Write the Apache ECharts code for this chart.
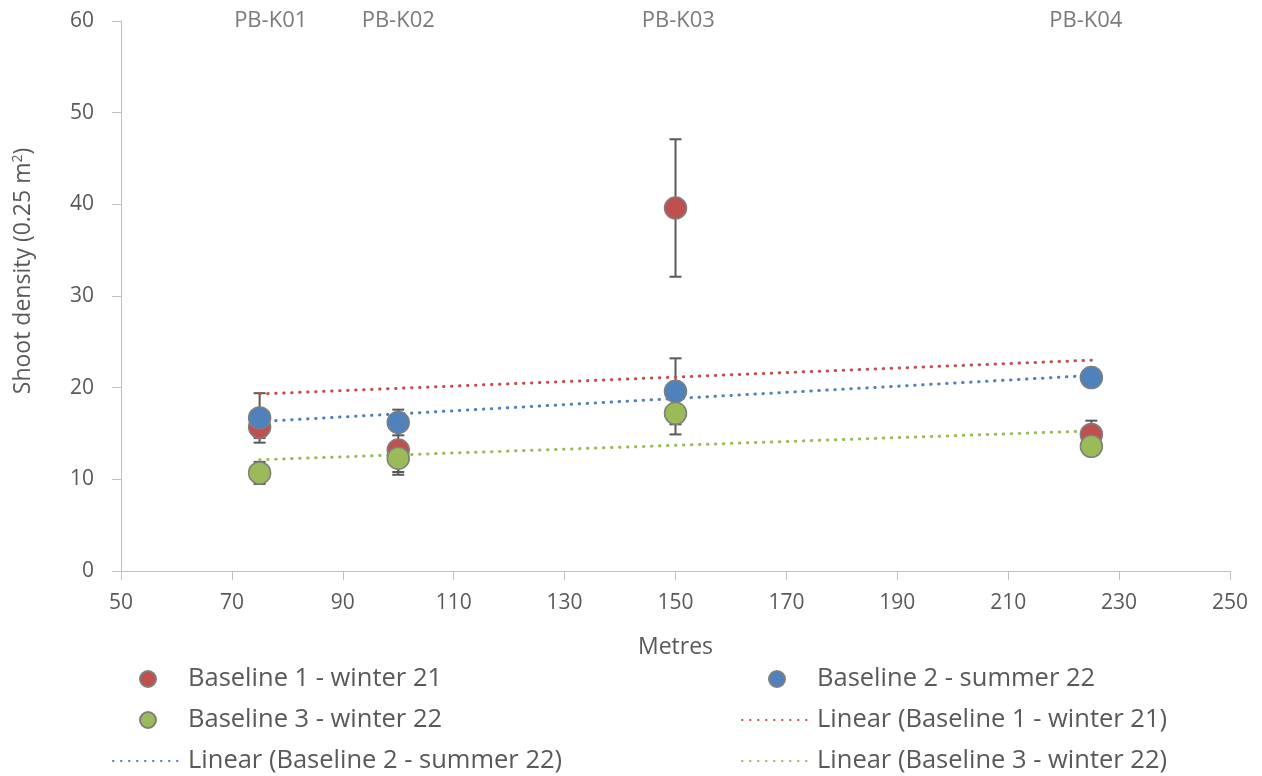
<!DOCTYPE html>
<html lang="en">
<head>
    <meta charset="UTF-8">
    <title>Shoot density</title>
    <script src="https://cdn.jsdelivr.net/npm/echarts@6/dist/echarts.min.js"></script>
    <style>
        html, body { margin: 0; padding: 0; background: #fff; }
        #main { width: 1262px; height: 776px; }
    </style>
</head>
<body>
<div id="main"></div>
<script type="text/javascript">
    // distance along transect (m)
    var metres = [75, 100, 150, 225];

    // mean shoot density per series
    var b1Values = [15.7, 13.2, 39.6, 14.9];
    var b2Values = [16.7, 16.2, 19.6, 21.1];
    var b3Values = [10.7, 12.3, 17.2, 13.6];

    // +/- error per point
    var b1Err = [1.2, 2.7, 7.5, 1.5];
    var b2Err = [2.7, 1.4, 3.6, 0.8];
    var b3Err = [1.2, 1.5, 2.3, 0.9];

    // site labels along the top
    var siteNames = ['PB-K01', 'PB-K02', 'PB-K03', 'PB-K04'];
    var siteX = [77, 100, 150.5, 224];

    var names = ['Baseline 1 - winter 21', 'Baseline 2 - summer 22', 'Baseline 3 - winter 22'];
    var colors = ['#c0504d', '#4f81bd', '#9bbb59'];
    var allValues = [b1Values, b2Values, b3Values];
    var allErr = [b1Err, b2Err, b3Err];

    var font = '"Open Sans", sans-serif';
    var grey = '#595959';

    // least squares trendline, like the spreadsheet "Linear" trendline
    function trend(xs, ys) {
        var n = xs.length, mx = 0, my = 0;
        for (var i = 0; i < n; i++) { mx += xs[i]; my += ys[i]; }
        mx /= n; my /= n;
        var sxy = 0, sxx = 0;
        for (var j = 0; j < n; j++) {
            sxy += (xs[j] - mx) * (ys[j] - my);
            sxx += (xs[j] - mx) * (xs[j] - mx);
        }
        var b = sxy / sxx, a = my - b * mx;
        var x0 = xs[0], x1 = xs[n - 1];
        return [[x0, a + b * x0], [x1, a + b * x1]];
    }

    function errorBars(params, api) {
        var x = api.value(0);
        var top = api.coord([x, api.value(2)]);
        var bot = api.coord([x, api.value(1)]);
        var hw = 6;
        var st = {stroke: grey, lineWidth: 2};
        return {
            type: 'group',
            children: [
                {type: 'line', shape: {x1: top[0], y1: top[1], x2: bot[0], y2: bot[1]}, style: st},
                {type: 'line', shape: {x1: top[0] - hw, y1: top[1], x2: top[0] + hw, y2: top[1]}, style: st},
                {type: 'line', shape: {x1: bot[0] - hw, y1: bot[1], x2: bot[0] + hw, y2: bot[1]}, style: st}
            ]
        };
    }

    var series = [];
    for (var s = 0; s < 3; s++) {
        var pts = [], errs = [];
        for (var k = 0; k < metres.length; k++) {
            pts.push([metres[k], allValues[s][k]]);
            errs.push([metres[k], allValues[s][k] - allErr[s][k], allValues[s][k] + allErr[s][k]]);
        }
        series.push({
            name: names[s],
            type: 'scatter',
            data: pts,
            symbolSize: 22,
            z: 4,
            itemStyle: {color: colors[s], borderColor: '#7f7f7f', borderWidth: 1.5, opacity: 1}
        });
        series.push({
            type: 'custom',
            renderItem: errorBars,
            encode: {x: 0, y: [1, 2]},
            data: errs,
            z: 2,
            silent: true
        });
        series.push({
            name: 'Linear (' + names[s] + ')',
            type: 'line',
            data: trend(metres, allValues[s]),
            symbol: 'none',
            z: 3,
            lineStyle: {color: colors[s], width: 3, type: [0.5, 7.5], cap: 'round'},
            itemStyle: {color: colors[s]}
        });
    }

    // site names drawn as labels of an invisible series at the top
    var labelPts = siteX.map(function (x, i) { return [x, 60, siteNames[i]]; });
    series.push({
        type: 'scatter',
        data: labelPts,
        symbolSize: 0,
        itemStyle: {color: 'transparent'},
        label: {
            show: true,
            position: [0, 0],
            align: 'center',
            verticalAlign: 'middle',
            formatter: function (p) { return p.value[2]; },
            color: grey,
            fontSize: 22,
            fontFamily: font
        },
        silent: true,
        z: 5
    });

    // legend entry for a trendline: dotted line only, no marker
    function lineEntry(i) {
        return {name: 'Linear (' + names[i] + ')', itemStyle: {opacity: 0, color: 'transparent', borderWidth: 0}};
    }

    var legendCommon = {
        orient: 'vertical',
        itemWidth: 70,
        itemHeight: 16,
        itemGap: 15,
        padding: 0,
        textStyle: {color: grey, fontSize: 25.5, fontFamily: font},
        selectedMode: false
    };

    var option = {
        animation: false,
        grid: {left: 121, right: 32, top: 21, bottom: 205},
        legend: [
            Object.assign({left: 112, top: 666, data: [names[0], names[2], lineEntry(1)]}, legendCommon),
            Object.assign({left: 741, top: 666, data: [names[1], lineEntry(0), lineEntry(2)]}, legendCommon)
        ],
        xAxis: {
            type: 'value',
            min: 50,
            max: 250,
            interval: 20,
            name: 'Metres',
            nameLocation: 'middle',
            nameGap: 65,
            nameTextStyle: {color: grey, fontSize: 23, fontFamily: font},
            axisLine: {show: true, lineStyle: {color: '#bfbfbf', width: 1}},
            axisTick: {show: true, length: 9, lineStyle: {color: '#bfbfbf'}},
            axisLabel: {color: grey, fontSize: 21, fontFamily: font, margin: 22},
            splitLine: {show: false}
        },
        yAxis: {
            type: 'value',
            min: 0,
            max: 60,
            interval: 10,
            name: 'Shoot density (0.25 m{sup|2})',
            nameLocation: 'middle',
            nameGap: 86,
            nameTextStyle: {
                color: grey, fontSize: 23, fontFamily: font,
                padding: [0, 0, 0, 50],
                rich: {sup: {fontSize: 14, verticalAlign: 'top', padding: [0, 0, 10, 0], color: grey, fontFamily: font}}
            },
            axisLine: {show: true, lineStyle: {color: '#bfbfbf', width: 1}},
            axisTick: {show: true, length: 9, lineStyle: {color: '#bfbfbf'}},
            axisLabel: {color: grey, fontSize: 21, fontFamily: font, margin: 27},
            splitLine: {show: false}
        },
        series: series
    };

    var myChart = echarts.init(document.getElementById('main'));
    myChart.setOption(option);
</script>
</body>
</html>
